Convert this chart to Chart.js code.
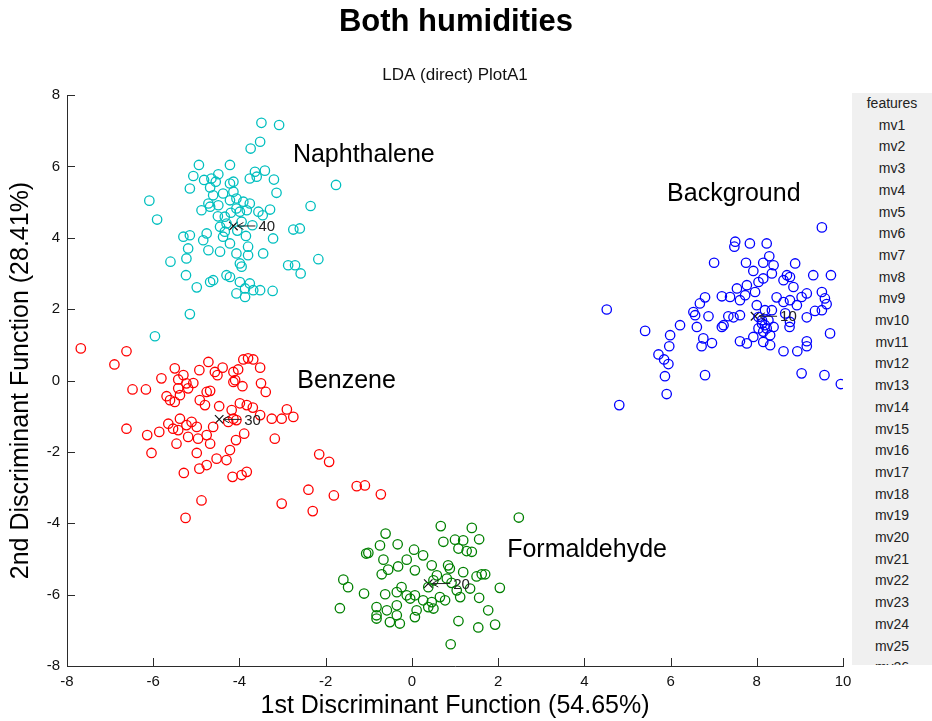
<!DOCTYPE html>
<html>
<head>
<meta charset="utf-8">
<title>Both humidities</title>
<script src="https://cdn.jsdelivr.net/npm/chart.js@4.4.1/dist/chart.umd.min.js"></script>
<style>
    html, body { margin: 0; padding: 0; background: #fff; }
    #wrap { position: relative; width: 932px; height: 721px; }
    #features {
        position: absolute; left: 852px; top: 93px; width: 80px; height: 572px;
        background: #f0f0f0; overflow: hidden;
        font-family: "Liberation Sans", Arial, sans-serif; font-size: 14px; color: #222;
        text-align: center; line-height: 21.7px;
    }
</style>
</head>
<body>
<div id="wrap">
    <canvas id="chart" width="932" height="721"></canvas>
    <div id="features"></div>
</div>
<script>
// Scatter points of each class, [x, y] in discriminant units
const naphthalene = [
    [-3.49,7.22],[-3.08,7.16],[-3.52,6.69],[-3.74,6.50],[-4.94,6.04],[-4.22,6.04],[-5.07,5.73],[-4.82,5.62],
    [-4.65,5.66],[-4.49,5.78],[-4.55,5.57],[-3.64,5.85],[-3.41,5.88],[-3.60,5.71],[-3.76,5.66],[-3.20,5.63],
    [-4.68,5.41],[-5.15,5.38],[-4.22,5.52],[-4.14,5.57],[-3.14,5.26],[-1.76,5.48],[-6.09,5.04],[-4.61,5.19],
    [-4.38,5.24],[-4.14,5.29],[-4.07,5.10],[-3.91,5.01],[-3.76,4.96],[-4.22,5.05],[-4.72,4.96],[-4.88,4.77],
    [-4.68,4.87],[-4.49,4.91],[-4.07,4.82],[-3.99,4.73],[-3.83,4.77],[-3.56,4.73],[-3.29,4.79],[-3.46,4.63],
    [-2.35,4.89],[-5.91,4.51],[-4.34,4.59],[-4.30,4.40],[-4.45,4.31],[-4.34,4.17],[-2.75,4.23],[-2.60,4.26],
    [-5.30,4.03],[-5.15,4.07],[-4.84,3.93],[-4.76,4.12],[-4.38,4.03],[-4.22,3.84],[-3.22,3.98],[-3.45,3.56],
    [-3.80,3.75],[-5.19,3.70],[-5.23,3.42],[-4.72,3.65],[-4.45,3.61],[-4.07,3.56],[-3.80,3.51],[-3.99,3.28],
    [-3.95,3.19],[-5.60,3.33],[-2.17,3.40],[-2.87,3.23],[-2.71,3.23],[-2.58,3.00],[-5.24,2.95],[-4.68,2.76],
    [-4.61,2.81],[-4.30,2.95],[-4.22,2.90],[-3.99,2.76],[-3.76,2.72],[-3.87,2.58],[-4.99,2.61],[-4.07,2.44],
    [-3.87,2.34],[-3.68,2.53],[-3.52,2.53],[-3.23,2.51],[-5.15,1.86],[-5.96,1.24],[-4.20,4.70],[-3.95,4.45],
    [-4.05,4.20],[-3.70,4.35],[-4.50,4.60],[-3.85,4.05]
];
const benzene = [
    [-7.68,0.90],[-6.62,0.82],[-6.90,0.45],[-5.50,0.34],[-5.81,0.06],[-5.30,0.15],[-5.42,0.03],[-5.23,-0.08],
    [-5.07,-0.07],[-4.93,0.29],[-4.72,0.52],[-4.57,0.24],[-4.39,0.36],[-4.51,0.15],[-4.14,0.24],[-4.03,0.31],
    [-3.91,0.59],[-3.80,0.62],[-3.68,0.59],[-3.52,0.36],[-4.10,0.01],[-4.14,-0.04],[-3.93,-0.16],[-3.50,-0.08],
    [-3.39,-0.32],[-6.48,-0.25],[-6.17,-0.25],[-5.42,-0.22],[-5.19,-0.22],[-5.38,-0.41],[-4.76,-0.32],[-4.68,-0.29],
    [-5.69,-0.44],[-5.61,-0.55],[-5.50,-0.60],[-4.92,-0.55],[-4.80,-0.69],[-4.47,-0.72],[-3.99,-0.64],[-3.83,-0.69],
    [-3.69,-0.76],[-3.52,-0.97],[-3.25,-1.07],[-3.02,-1.07],[-2.90,-0.81],[-2.75,-1.02],[-4.18,-0.83],[-4.14,-1.07],
    [-6.62,-1.35],[-6.14,-1.53],[-5.86,-1.44],[-5.65,-1.21],[-5.54,-1.35],[-5.42,-1.39],[-5.23,-1.25],[-5.11,-1.16],
    [-4.99,-1.30],[-5.38,-1.07],[-5.46,-1.77],[-5.19,-1.58],[-4.96,-1.63],[-4.76,-1.53],[-4.68,-1.77],[-4.61,-1.30],
    [-4.26,-1.16],[-4.07,-1.11],[-3.89,-1.49],[-4.08,-1.67],[-3.18,-1.63],[-6.04,-2.03],[-4.99,-2.03],[-4.53,-2.19],
    [-4.30,-2.23],[-4.22,-1.95],[-4.76,-2.37],[-4.93,-2.47],[-5.29,-2.59],[-4.16,-2.70],[-3.95,-2.65],[-3.83,-2.56],
    [-2.15,-2.07],[-1.92,-2.28],[-2.40,-3.06],[-1.81,-3.22],[-1.28,-2.96],[-1.09,-2.94],[-0.72,-3.19],[-4.88,-3.36],
    [-3.02,-3.45],[-2.30,-3.66],[-5.25,-3.85]
];
const formaldehyde = [
    [2.48,-3.84],[0.67,-4.08],[1.39,-4.13],[1.56,-4.45],[0.73,-4.52],[1.00,-4.46],[1.19,-4.48],[1.08,-4.71],
    [1.27,-4.78],[1.39,-4.80],[-0.61,-4.29],[-0.74,-4.62],[-0.33,-4.59],[-1.06,-4.85],[-1.01,-4.83],[-0.66,-5.02],
    [0.05,-4.74],[0.26,-4.90],[-0.12,-5.02],[-0.32,-5.21],[-0.55,-5.30],[-0.70,-5.43],[0.07,-5.32],[0.46,-5.18],
    [0.84,-5.18],[0.88,-5.27],[1.19,-5.37],[1.50,-5.49],[1.62,-5.43],[1.70,-5.43],[-1.59,-5.58],[-1.48,-5.79],
    [-1.11,-5.97],[-1.67,-6.38],[-0.62,-5.99],[-0.35,-5.93],[-0.24,-5.79],[-0.12,-6.02],[0.07,-6.02],[-0.04,-6.11],
    [0.38,-5.79],[0.50,-5.60],[0.58,-5.46],[0.81,-5.55],[0.92,-5.67],[1.04,-5.88],[1.12,-6.07],[1.35,-5.83],
    [1.56,-6.09],[0.65,-6.07],[0.77,-6.16],[0.46,-6.21],[0.26,-6.16],[-0.82,-6.35],[-0.82,-6.58],[-0.58,-6.44],
    [-0.35,-6.30],[-0.35,-6.58],[-0.51,-6.77],[-0.28,-6.81],[0.11,-6.44],[0.07,-6.63],[0.38,-6.35],[0.50,-6.39],
    [1.77,-6.44],[2.04,-5.81],[1.93,-6.84],[1.08,-6.74],[1.54,-6.92],[0.90,-7.39],[-0.82,-6.67]
];
const background = [
    [9.51,4.29],[7.50,3.89],[7.48,3.75],[7.84,3.84],[8.23,3.84],[8.29,3.48],[7.01,3.30],[7.75,3.30],
    [8.15,3.30],[8.39,3.23],[7.92,3.07],[8.89,3.28],[8.35,3.00],[8.15,2.86],[8.04,2.76],[8.70,2.95],
    [8.77,2.90],[8.62,2.81],[9.31,2.95],[9.72,2.95],[7.77,2.67],[7.54,2.58],[7.96,2.48],[7.73,2.39],
    [8.85,2.62],[9.16,2.44],[9.04,2.34],[8.46,2.33],[8.62,2.20],[8.77,2.25],[8.93,2.11],[9.51,2.48],
    [9.58,2.30],[9.62,2.14],[6.80,2.33],[7.19,2.36],[7.38,2.34],[7.61,2.25],[6.68,2.16],[6.53,1.92],
    [6.57,1.83],[6.88,1.80],[7.34,1.80],[7.46,1.77],[7.61,1.83],[8.00,2.11],[8.19,1.97],[8.35,1.97],
    [8.66,1.88],[8.04,1.78],[8.12,1.60],[8.23,1.46],[8.31,1.27],[8.39,1.50],[8.77,1.64],[8.76,1.50],
    [9.16,1.77],[9.35,1.95],[9.51,1.97],[6.22,1.55],[6.61,1.50],[7.19,1.50],[7.23,1.55],[5.41,1.39],
    [5.99,1.27],[5.97,0.96],[6.76,1.18],[6.72,0.96],[6.96,1.05],[7.61,1.10],[7.77,1.04],[7.92,1.22],
    [8.15,1.08],[8.31,0.99],[8.62,0.82],[8.94,0.82],[9.16,1.10],[9.16,0.96],[9.70,1.32],[5.72,0.73],
    [5.85,0.59],[5.95,0.46],[5.87,0.12],[6.80,0.15],[9.04,0.20],[9.57,0.15],[9.95,-0.10],[5.91,-0.38],
    [4.81,-0.69],[4.52,1.99],[8.12,1.69],[8.19,1.55],[8.04,1.46],[8.27,1.69],[8.15,1.37]
];

// Class centroids and their tags
const centroidX = [-4.14, -4.47, 0.38, 7.96];
const centroidY = [4.33, -1.09, -5.69, 1.80];
const centroidTags = ['40', '30', '20', '10'];

// Class names and the point where each name starts
const classNames = ['Naphthalene', 'Benzene', 'Formaldehyde', 'Background'];
const classNameX = [-2.76, -2.66, 2.21, 5.92];
const classNameY = [6.32, -0.02, -4.75, 5.22];

// Axis ticks
const xTicks = [-8, -6, -4, -2, 0, 2, 4, 6, 8, 10];
const yTicks = [-8, -6, -4, -2, 0, 2, 4, 6, 8];

const titleText = 'Both humidities';
const subtitleText = 'LDA (direct) PlotA1';

// Right-hand list box
const featureItems = ['features', 'mv1', 'mv2', 'mv3', 'mv4', 'mv5', 'mv6', 'mv7', 'mv8', 'mv9', 'mv10',
    'mv11', 'mv12', 'mv13', 'mv14', 'mv15', 'mv16', 'mv17', 'mv18', 'mv19', 'mv20', 'mv21', 'mv22',
    'mv23', 'mv24', 'mv25', 'mv26'];

document.getElementById('features').innerHTML =
    featureItems.map(t => `<div>${t}</div>`).join('');

const FONT = '"Liberation Sans", Arial, sans-serif';
const AXIS_COLOR = '#2b2b2b';

function toPoints(arr) {
    return arr.map(p => ({ x: p[0], y: p[1] }));
}

function classSet(label, arr, color) {
    return {
        label,
        data: toPoints(arr),
        borderColor: color,
        backgroundColor: 'rgba(0,0,0,0)',
        pointRadius: 4.7,
        pointBorderWidth: 1.3,
        pointHoverRadius: 4.7
    };
}

// Inward tick marks (MATLAB style), titles over the axes, arrows to centroids and class names
const annotations = {
    id: 'annotations',
    afterDraw(chart) {
        const { ctx, chartArea } = chart;
        const xs = chart.scales.x;
        const ys = chart.scales.y;
        const midX = (chartArea.left + chartArea.right) / 2;
        ctx.save();

        ctx.fillStyle = '#000';
        ctx.textAlign = 'center';
        ctx.textBaseline = 'middle';
        ctx.font = 'bold 31px ' + FONT;
        ctx.fillText(titleText, midX + 1, 22);
        ctx.font = '17px ' + FONT;
        ctx.fillStyle = '#111';
        ctx.fillText(subtitleText, midX, 75);

        ctx.strokeStyle = AXIS_COLOR;
        ctx.lineWidth = 1;
        ctx.beginPath();
        xTicks.forEach(v => {
            const px = Math.round(xs.getPixelForValue(v)) + 0.5;
            ctx.moveTo(px, chartArea.bottom);
            ctx.lineTo(px, chartArea.bottom - 8);
        });
        yTicks.forEach(v => {
            const py = Math.round(ys.getPixelForValue(v)) + 0.5;
            ctx.moveTo(chartArea.left, py);
            ctx.lineTo(chartArea.left + 8, py);
        });
        ctx.stroke();

        // arrows and tags next to the centroid crosses
        ctx.strokeStyle = '#222';
        ctx.fillStyle = '#222';
        ctx.font = '15px ' + FONT;
        ctx.textAlign = 'left';
        centroidX.forEach((cx, i) => {
            const px = xs.getPixelForValue(cx);
            const py = ys.getPixelForValue(centroidY[i]);
            ctx.beginPath();
            ctx.moveTo(px + 4, py);
            ctx.lineTo(px + 22, py);
            ctx.moveTo(px + 4, py);
            ctx.lineTo(px + 10, py - 3.5);
            ctx.moveTo(px + 4, py);
            ctx.lineTo(px + 10, py + 3.5);
            ctx.stroke();
            ctx.fillText(centroidTags[i], px + 25, py + 1);
        });

        ctx.fillStyle = '#000';
        ctx.font = '25px ' + FONT;
        classNames.forEach((name, i) => {
            ctx.fillText(name, xs.getPixelForValue(classNameX[i]), ys.getPixelForValue(classNameY[i]));
        });
        ctx.restore();
    }
};

new Chart(document.getElementById('chart'), {
    type: 'scatter',
    data: {
        datasets: [
            classSet('Naphthalene', naphthalene, '#00bfbf'),
            classSet('Benzene', benzene, '#ff0000'),
            classSet('Formaldehyde', formaldehyde, '#008000'),
            classSet('Background', background, '#0000ff'),
            {
                label: 'centroids',
                data: centroidX.map((x, i) => ({ x, y: centroidY[i] })),
                pointStyle: 'crossRot',
                pointRadius: 6,
                pointBorderWidth: 1.2,
                borderColor: '#111',
                backgroundColor: '#111'
            }
        ]
    },
    options: {
        responsive: false,
        animation: false,
        events: [],
        layout: { padding: { left: 0, right: 89, top: 95, bottom: 0 } },
        plugins: {
            legend: { display: false },
            tooltip: { enabled: false },
            title: { display: false },
            subtitle: { display: false }
        },
        scales: {
            x: {
                type: 'linear',
                min: -8,
                max: 10,
                afterBuildTicks: s => { s.ticks = xTicks.map(v => ({ value: v })); },
                afterFit: s => { s.height = 55; },
                grid: { display: false, drawTicks: false },
                border: { display: true, color: AXIS_COLOR, width: 1 },
                ticks: {
                    color: '#111',
                    padding: 7,
                    maxRotation: 0,
                    font: { family: FONT, size: 15 }
                },
                title: {
                    display: true,
                    text: '1st Discriminant Function (54.65%)',
                    color: '#000',
                    font: { family: FONT, size: 25 },
                    padding: { top: 0, bottom: 0 }
                }
            },
            y: {
                type: 'linear',
                min: -8,
                max: 8,
                afterBuildTicks: s => { s.ticks = yTicks.map(v => ({ value: v })); },
                afterFit: s => { s.width = 67; },
                grid: { display: false, drawTicks: false },
                border: { display: true, color: AXIS_COLOR, width: 1 },
                ticks: {
                    color: '#111',
                    padding: 7,
                    font: { family: FONT, size: 15 }
                },
                title: {
                    display: true,
                    text: '2nd Discriminant Function (28.41%)',
                    color: '#000',
                    font: { family: FONT, size: 25 },
                    padding: { top: 6, bottom: 0 }
                }
            }
        }
    },
    plugins: [annotations]
});
</script>
</body>
</html>
